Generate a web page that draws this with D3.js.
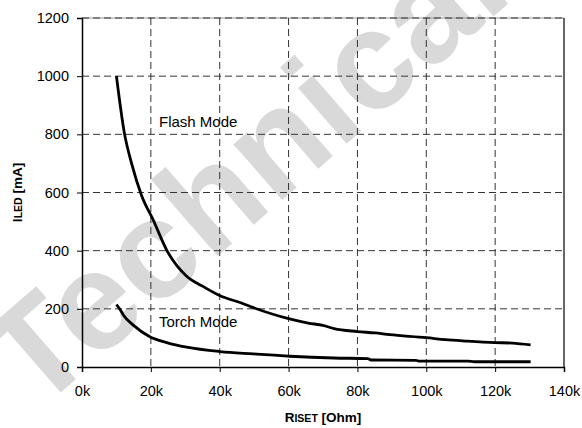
<!DOCTYPE html>
<html>
<head>
<meta charset="utf-8">
<script src="https://cdn.jsdelivr.net/npm/d3@7"></script>
<style>
  body { margin: 0; background: #fff; }
  text { font-family: "Liberation Sans", Arial, sans-serif; }
</style>
</head>
<body>
<script>
// values (R in ohm, I in mA)
var flashR = [10000, 12300, 14400, 17300, 20700, 24600, 30400, 35000, 40100, 46300, 49800, 55000, 60000, 65700, 70000, 73200, 80000, 85100, 89400, 100000, 105500, 112000, 120000, 125000, 130300];
var flashI = [1000, 805, 700, 590, 505, 402, 312, 278, 245, 220, 204, 183, 166, 151, 143, 132, 122, 117, 111, 101, 94, 89, 84, 82, 76];
var torchR = [10000, 11200, 12000, 14900, 19700, 24600, 30400, 40100, 49800, 60400, 73200, 83000, 84000, 97000, 98000, 112000, 114000, 130300];
var torchI = [215, 195, 179, 144, 104, 84, 68, 53, 45, 37, 31, 29, 24, 23, 20, 20, 18, 18];
var xTicks = [0, 20000, 40000, 60000, 80000, 100000, 120000, 140000];
var yTicks = [0, 200, 400, 600, 800, 1000, 1200];

var width = 582, height = 428;
var plotLeft = 82, plotRight = 564, plotTop = 18, plotBottom = 367;

var svg = d3.select("body").append("svg")
    .attr("width", width)
    .attr("height", height);

// watermark
svg.append("text")
    .attr("transform", "translate(36,414) rotate(-41)")
    .attr("font-size", 140)
    .attr("font-weight", "bold")
    .attr("fill", "#d9d9d9")
    .text("Technical");

var x = d3.scaleLinear().domain([0, 140000]).range([plotLeft, plotRight]);
var y = d3.scaleLinear().domain([0, 1200]).range([plotBottom, plotTop]);

// grid
svg.append("line")
    .attr("x1", plotLeft).attr("x2", plotRight).attr("y1", plotTop).attr("y2", plotTop)
    .attr("stroke", "#999").attr("stroke-width", 1);

svg.selectAll(".hgrid")
    .data(yTicks.filter(function (d) { return d > 0; }))
    .enter().append("line")
    .attr("class", "hgrid")
    .attr("x1", plotLeft).attr("x2", plotRight)
    .attr("y1", function (d) { return y(d); })
    .attr("y2", function (d) { return y(d); })
    .attr("stroke", "#333").attr("stroke-width", 1)
    .attr("stroke-dasharray", "7,4");

svg.selectAll(".vgrid")
    .data(xTicks.filter(function (d) { return d > 0 && d < 140000; }))
    .enter().append("line")
    .attr("class", "vgrid")
    .attr("x1", function (d) { return x(d); })
    .attr("x2", function (d) { return x(d); })
    .attr("y1", plotTop).attr("y2", plotBottom)
    .attr("stroke", "#333").attr("stroke-width", 1)
    .attr("stroke-dasharray", "7,4");

// right border
svg.append("line")
    .attr("x1", plotRight).attr("x2", plotRight).attr("y1", plotTop).attr("y2", plotBottom)
    .attr("stroke", "#000").attr("stroke-width", 1.2);

// axes
var xAxis = svg.append("g")
    .attr("transform", "translate(0," + plotBottom + ")")
    .call(d3.axisBottom(x).tickValues(xTicks).tickSize(5).tickPadding(14)
        .tickFormat(function (d) { return (d / 1000) + "k"; }));
var yAxis = svg.append("g")
    .attr("transform", "translate(" + plotLeft + ",0)")
    .call(d3.axisLeft(y).tickValues(yTicks).tickSize(5).tickPadding(8)
        .tickFormat(d3.format("d")));

[xAxis, yAxis].forEach(function (g) {
    g.select(".domain").attr("stroke", "#000").attr("stroke-width", 1.5);
    g.selectAll(".tick line").attr("stroke", "#000");
    g.selectAll("text")
        .attr("fill", "#000")
        .style("font-size", "14.5px")
        .style("font-family", "'Liberation Sans', Arial, sans-serif");
});

// curves
var line = d3.line()
    .x(function (d) { return x(d[0]); })
    .y(function (d) { return y(d[1]); })
    .curve(d3.curveMonotoneX);

svg.append("path")
    .datum(d3.zip(flashR, flashI))
    .attr("d", line)
    .attr("fill", "none").attr("stroke", "#000").attr("stroke-width", 2.8);

svg.append("path")
    .datum(d3.zip(torchR, torchI))
    .attr("d", line)
    .attr("fill", "none").attr("stroke", "#000").attr("stroke-width", 2.8);

// annotations
svg.append("text")
    .attr("x", 159).attr("y", 127)
    .attr("font-size", 15)
    .text("Flash Mode");
svg.append("text")
    .attr("x", 159).attr("y", 327)
    .attr("font-size", 15)
    .text("Torch Mode");

// axis titles
var xt = svg.append("text")
    .attr("x", (plotLeft + plotRight) / 2).attr("y", 422)
    .attr("text-anchor", "middle")
    .attr("font-weight", "bold")
    .attr("font-size", 13.5);
xt.append("tspan").text("R");
xt.append("tspan").attr("font-size", 10.5).text("ISET");
xt.append("tspan").text(" [Ohm]");

var yt = svg.append("text")
    .attr("transform", "translate(22," + ((plotTop + plotBottom) / 2) + ") rotate(-90)")
    .attr("text-anchor", "middle")
    .attr("font-weight", "bold")
    .attr("font-size", 13.5);
yt.append("tspan").text("I");
yt.append("tspan").attr("font-size", 10.5).text("LED");
yt.append("tspan").text(" [mA]");
</script>
</body>
</html>
